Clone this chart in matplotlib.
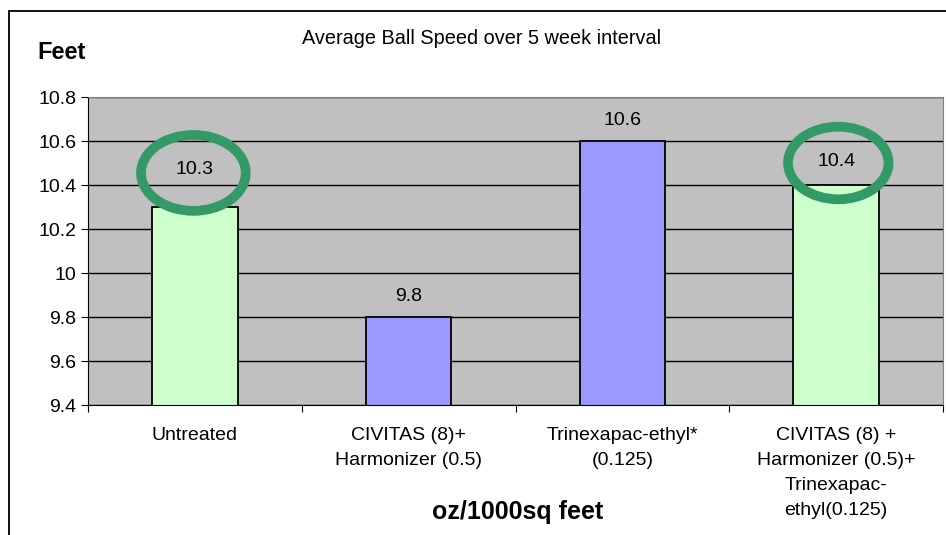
import matplotlib.pyplot as plt
import numpy as np
from matplotlib.patches import Ellipse, Rectangle

plt.rcParams['font.family'] = ['Liberation Sans', 'DejaVu Sans']

# data
categories = ['Untreated', 'CIVITAS (8)+\nHarmonizer (0.5)', 'Trinexapac-ethyl*\n(0.125)',
              'CIVITAS (8) +\nHarmonizer (0.5)+\nTrinexapac-\nethyl(0.125)']
values = [10.3, 9.8, 10.6, 10.4]
colors = ['#CCFFCC', '#9999FF', '#9999FF', '#CCFFCC']
label_offsets = [27, 15, 15, 17]   # points above bar top
circled = [0, 3]
yticks = [9.4, 9.6, 9.8, 10, 10.2, 10.4, 10.6, 10.8]

fig = plt.figure(figsize=(9.46, 5.35), dpi=100)
ax = fig.add_axes([88/946, 130/535, 855/946, 308/535])

# outer frame
fig.patches.append(Rectangle((9/946, -0.05), 1.1, 1 - 11/535 + 0.05, transform=fig.transFigure,
                             fill=False, edgecolor='black', lw=1.3))

x = np.arange(len(values))
ax.set_facecolor('#C0C0C0')
ax.set_axisbelow(True)
ax.yaxis.grid(True, color='black', lw=1)
ax.bar(x, values, width=0.4, color=colors, edgecolor='black', lw=1.3, zorder=2)

for i, v in enumerate(values):
    lab = str(int(v)) if v == int(v) else str(v)
    ax.annotate(lab, (x[i], v), xytext=(0, label_offsets[i]), textcoords='offset points',
                ha='center', va='center', fontsize=14, zorder=4)

# green circles around two of the labels
ell_xy = [(-0.007, 10.455), (0.01, 10.5)]
ell_wh = [(0.49, 0.345), (0.47, 0.33)]
for k, i in enumerate(circled):
    ax.add_patch(Ellipse((x[i] + ell_xy[k][0], ell_xy[k][1]), ell_wh[k][0], ell_wh[k][1], fill=False,
                         edgecolor='#339966', lw=7, zorder=5, clip_on=False))

ax.set_xlim(-0.5, 3.5)
ax.set_ylim(9.4, 10.8)
ax.set_yticks(yticks)
ax.set_yticklabels(['9.4', '9.6', '9.8', '10', '10.2', '10.4', '10.6', '10.8'], fontsize=14)
ax.set_xticks([-0.5, 0.5, 1.5, 2.5, 3.5])
ax.set_xticklabels([])
ax.set_xticks(x, minor=True)
ax.set_xticklabels(categories, minor=True, fontsize=14, linespacing=1.63)
ax.tick_params(axis='x', which='minor', length=0, pad=15.5)
ax.tick_params(axis='x', which='major', length=5, direction='out')
ax.tick_params(axis='y', length=5, direction='out')

for s in ['top', 'right']:
    ax.spines[s].set_color('#808080')
for s in ['left', 'bottom']:
    ax.spines[s].set_color('black')

fig.text(482/946, 1 - 39/535, 'Average Ball Speed over 5 week interval', ha='center', va='center', fontsize=14.3)
fig.text(37/946, 1 - 52/535, 'Feet', ha='left', va='center', fontsize=17, fontweight='bold')
fig.text(518/946, 1 - 512/535, 'oz/1000sq feet', ha='center', va='center', fontsize=18, fontweight='bold')

fig.savefig('out.png', dpi=100)
